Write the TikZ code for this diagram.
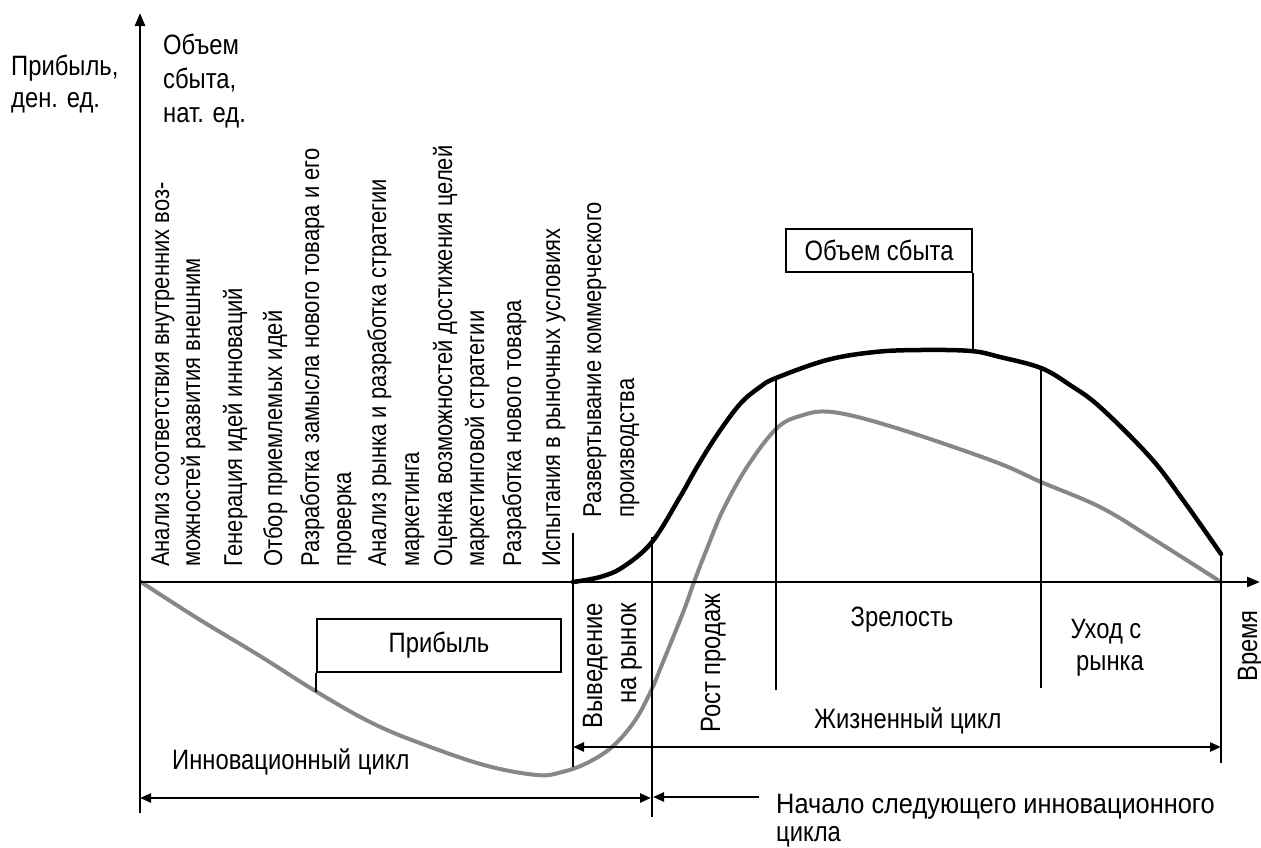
\documentclass[tikz,border=0pt]{standalone}
\usepackage{fontspec}
\setmainfont{Liberation Sans}[FakeStretch=0.85]
\usetikzlibrary{arrows.meta,calc}
\definecolor{curvegray}{RGB}{135,135,135}
\newcommand\fsz{\fontsize{28}{32}\selectfont}
\newcommand\fszs{\fontsize{25.8}{30}\selectfont}
\begin{document}
\begin{tikzpicture}[x=1pt,y=-1pt,
  txt/.style={inner sep=0pt, font=\fsz},
  col/.style={txt, rotate=90, anchor=base west},
  stagecol/.style={col, font=\fszs},
  colend/.style={txt, rotate=90, anchor=base east},
  box/.style={draw, line width=1.8pt, font=\fsz, inner sep=0pt, fill=white},
  axisline/.style={line width=2.5pt, -{Triangle[length=13pt,width=10pt]}},
  thinline/.style={line width=1.8pt},
  dimline/.style={line width=2.5pt, {Triangle[length=11pt,width=9pt]}-{Triangle[length=11pt,width=9pt]}},
  oneway/.style={line width=2.5pt, -{Triangle[length=11pt,width=9pt]}},
  sales/.style={line width=4.5pt, line join=round, line cap=round},
  profit/.style={line width=4pt, color=curvegray, line join=round, line cap=round}
]
\useasboundingbox (0,0) rectangle (1261,847);

% coordinates
\coordinate (O) at (140,582);
\coordinate (ytop) at (140,13);
\coordinate (ybot) at (140,813);
\coordinate (xend) at (1260,582);
\coordinate (a1) at (573,533); \coordinate (a2) at (573,767);
\coordinate (b1) at (652,537); \coordinate (b2) at (652,817);
\coordinate (c1) at (776,378); \coordinate (c2) at (776,690);
\coordinate (d1) at (1041,368); \coordinate (d2) at (1041,688);
\coordinate (e1) at (1221,554); \coordinate (e2) at (1221,763);
\coordinate (life1) at (573,747); \coordinate (life2) at (1221,747);
\coordinate (inno1) at (140,798); \coordinate (inno2) at (651,798);
\coordinate (nx1) at (759,797); \coordinate (nx2) at (653,797);
\coordinate (op) at (971,351);
\coordinate (pp) at (317,692);

% profit curve
\draw[profit] plot[smooth, tension=0.6] coordinates {(141,582) (197,618) (260,656) (317,692) (370,722) (417,742) (484,765) (537,775) (562,772) (587,763) (612,747) (634,722) (650,693) (663,662) (684,610) (694,582) (708,546) (723,510) (747,467) (776,429) (800,416) (832,412) (893,427) (993,461) (1041,482) (1100,507) (1150,537) (1221,582)};

% sales curve
\draw[sales] plot[smooth, tension=0.6] coordinates {(573,582) (600,577) (623,567) (652,542) (680,497) (697,467) (717,435) (740,404) (760,387) (776,378) (827,360) (875,352) (920,350) (971,351) (1000,357) (1041,368) (1070,385) (1100,407) (1150,457) (1183,500) (1221,554)};

% axes
\draw[axisline] (ybot) -- (ytop);
\draw[axisline] (O) -- (xend);

% stage lines
\draw[thinline] (a1) -- (a2);
\draw[thinline] (b1) -- (b2);
\draw[thinline] (c1) -- (c2);
\draw[thinline] (d1) -- (d2);
\draw[thinline] (e1) -- (e2);

% cycle arrows
\draw[dimline] (life1) -- (life2);
\draw[dimline] (inno1) -- (inno2);
\draw[oneway] (nx1) -- (nx2);

% boxes
\node[box, minimum width=186pt, minimum height=43pt] (obox) at (879,250.5) {Объем сбыта};
\node[box, minimum width=244pt, minimum height=53pt] (pbox) at (439,645.5) {Прибыль};
\draw[thinline] (obox.south east) -- (obox.south east |- op);
\draw[thinline] (pbox.south west) -- (pbox.south west |- pp);

% axis labels
\node[txt, anchor=base west] (yl1) at (11,75) {Прибыль,};
\node[txt, anchor=base west] (yl2) at (11,107) {ден. ед.};
\node[txt, anchor=base west] (vl1) at (163,54) {Объем};
\node[txt, anchor=base west] (vl2) at (163,88) {сбыта,};
\node[txt, anchor=base west] (vl3) at (163,122) {нат. ед.};

% stage columns
\node[stagecol] (s1a) at (169,567) {Анализ соответствия внутренних воз-};
\node[stagecol] (s1b) at (200,567) {можностей развития внешним};
\node[stagecol] (s2) at (242,567) {Генерация идей инноваций};
\node[stagecol] (s3) at (282,567) {Отбор приемлемых идей};
\node[stagecol] (s4a) at (319,567) {Разработка замысла нового товара и его};
\node[stagecol] (s4b) at (351,567) {проверка};
\node[stagecol] (s5a) at (386,567) {Анализ рынка и разработка стратегии};
\node[stagecol] (s5b) at (419,567) {маркетинга};
\node[stagecol] (s6a) at (452,567) {Оценка возможностей достижения целей};
\node[stagecol] (s6b) at (484,567) {маркетинговой стратегии};
\node[stagecol] (s7) at (521,567) {Разработка нового товара};
\node[stagecol] (s8) at (560,567) {Испытания в рыночных условиях};
\node[stagecol] (s9a) at (601,518) {Развертывание коммерческого};
\node[stagecol] (s9b) at (634,518) {производства};

% phase labels
\node[colend] (vy1) at (602,603) {Выведение};
\node[colend] (vy2) at (636,603) {на рынок};
\node[col] (rost) at (720,733) {Рост продаж};
\node[txt, anchor=base] (zr) at (902,626) {Зрелость};
\node[txt, anchor=base] (ux1) at (1106,638) {Уход с};
\node[txt, anchor=base] (ux2) at (1110,670) {рынка};
\node[col] (time) at (1257,682) {Время};

% cycle labels
\node[txt, anchor=base west] (life) at (814,728) {Жизненный цикл};
\node[txt, anchor=base west] (inno) at (172,769) {Инновационный цикл};
\node[txt, anchor=base west] (next1) at (776,813) {\scalebox{1.065}[1]{Начало следующего инновационного}};
\node[txt, anchor=base west] (next2) at (776,841) {цикла};
\end{tikzpicture}
\end{document}
